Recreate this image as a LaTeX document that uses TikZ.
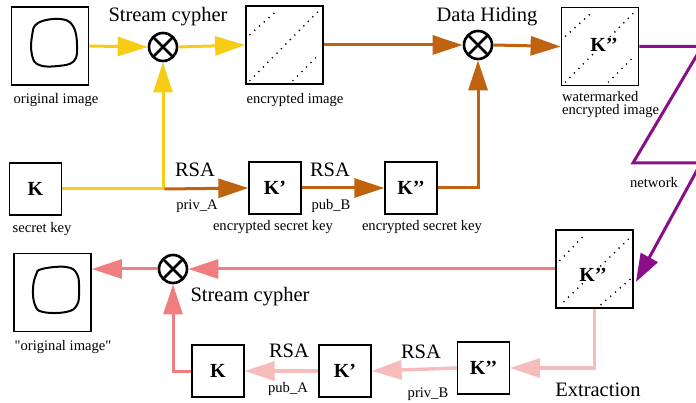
\documentclass[tikz,border=0pt]{standalone}
\usepackage{fontspec}
\setmainfont{Liberation Serif}[Ligatures=TeXOff]
\usetikzlibrary{arrows.meta,calc}
\definecolor{cyel}{HTML}{F6CC14}
\definecolor{cbrown}{HTML}{C0630F}
\definecolor{cpurp}{HTML}{8A0E88}
\definecolor{csalm}{HTML}{F07E7E}
\definecolor{cpink}{HTML}{F6BCBC}
\begin{document}
\begin{tikzpicture}[x=1pt,y=-1pt,
  every node/.style={font=\fontsize{14.6}{13}\selectfont, inner sep=0pt},
  big/.style={font=\fontsize{20.5}{24}\selectfont},
  keyf/.style={font=\fontsize{20}{24}\selectfont\bfseries},
  box/.style={draw, line width=1.3pt, minimum width=52pt, minimum height=52pt, keyf},
  imgbox/.style={draw, line width=1.8pt, minimum width=77pt, minimum height=78pt},
  xor/.style={draw, circle, line width=2.6pt, minimum size=28pt,
    path picture={\draw[line width=2.6pt] (path picture bounding box.north west) -- (path picture bounding box.south east)
      (path picture bounding box.north east) -- (path picture bounding box.south west);}},
  tip/.style={-{Triangle[length=30pt,width=19pt]}},
  yline/.style={draw=cyel, line width=3pt},
  bline/.style={draw=cbrown, line width=3pt},
  pline/.style={draw=cpurp, line width=3pt},
  sline/.style={draw=csalm, line width=3pt},
  kline/.style={draw=cpink, line width=3.4pt},
  dotl/.style={line width=1.4pt, dash pattern=on 1.2pt off 5.2pt},
  scrib/.style={line width=2pt}]
\useasboundingbox (0,0) rectangle (696,403);

% ---------- top row ----------
\node[imgbox] (orig) at (50,46) {};
\draw[scrib] plot[smooth cycle, tension=0.7] coordinates {(38,23) (60,19) (73,26) (77,45) (74,61) (58,66) (39,65) (32,55) (32,36)};
\node[xor] (x1) at (163,47) {};
\node[imgbox] (enc) at (284.5,45) {};
\begin{scope}[shift={(enc.center)}]
  \draw[dotl] (-35,-10) -- (-8,-34);
  \draw[dotl] (-35,36) -- (34,-34);
  \draw[dotl] (8,36) -- (34,10);
\end{scope}
\node[xor] (x2) at (478,45) {};
\node[imgbox] (wm) at (600,46.5) {};
\begin{scope}[shift={(wm.center)}]
  \draw[dotl] (-35,-10) -- (-8,-34);
  \draw[dotl] (-35,36) -- (34,-34);
  \draw[dotl] (8,36) -- (34,10);
\end{scope}
\node[keyf, fill=white, inner sep=1pt] (wmk) at (604,45) {K’’};

\node[box] (K) at (35.5,189) {K};
\node[box] (K1) at (275,188) {K’};
\node[box] (K2) at (411,188) {K’’};
\coordinate (j1) at (x1 |- K.east);
\coordinate (j2) at (x2 |- K2.east);

\node[big] (t1) at (168,17) {Stream cypher};
\node (l1) at (56,100) {original image};
\node (l2) at (295,100) {encrypted image};
\node[big] (t2) at (487,17) {Data Hiding};
\node[align=left, anchor=west] (l3) at (562,105) {watermarked\\encrypted image};
\node (l4) at (42,229) {secret key};
\node[big] (r1) at (195,170) {RSA};
\node (p1) at (197,206) {priv\_A};
\node (l5) at (273,227) {encrypted secret key};
\node (l6) at (422,227) {encrypted secret key};
\node[big] (r2) at (330,170) {RSA};
\node (p2) at (331,206) {pub\_B};
\node (l7) at (654,183) {network};

\draw[yline, tip] (orig.east) -- (x1.west);
\draw[yline, tip] (x1.east) -- (enc.west);
\draw[yline, tip] (K.east) -- (j1) -- (x1.south);
\draw[bline, tip] (enc.east) -- (x2.west);
\draw[bline, tip] (x2.east) -- (wm.west);
\draw[bline, tip] ($(j1)+(1.5,0)$) -- (K1.west);
\draw[bline, tip] (K1.east) -- (K2.west);
\draw[bline, tip] (K2.east) -- (j2) -- (x2.south);

% ---------- bottom row ----------
\node[imgbox] (rec) at (594.5,269) {};
\begin{scope}[shift={(rec.center)}]
  \draw[dotl] (-35,-8) -- (-12,-32);
  \draw[dotl] (-31,33) -- (34,-30);
  \draw[dotl] (6,36) -- (36,10);
\end{scope}
\node[keyf, fill=white, inner sep=1pt] (reck) at (593,275) {K’’};
\coordinate (nettip) at ($(rec.east)+(2,13)$);

\node[xor] (x3) at (173,269) {};
\node[imgbox] (orig2) at (52.5,292.5) {};
\draw[scrib] plot[smooth cycle, tension=0.7] coordinates {(42,269) (66,267) (77,274) (79,290) (77,305) (66,312) (43,312) (35,305) (33,289) (36,275)};
\node[box] (Kb) at (218,371) {K};
\node[box] (K1b) at (345,371) {K’};
\node[box] (K2b) at (483.5,368) {K’’};
\coordinate (j3) at (x3 |- Kb.west);
\coordinate (j4) at (rec.south |- K2b.east);

\node[big] (t3) at (250,297) {Stream cypher};
\node (l8) at (63,347) {"original image"};
\node[big] (r3) at (289,351) {RSA};
\node (p3) at (288,389) {pub\_A};
\node[big] (r4) at (421,352) {RSA};
\node (p4) at (428,394) {priv\_B};
\node[big] (t4) at (598,390) {Extraction};

\draw[sline, tip] (rec.west) -- (x3.east);
\draw[sline, tip] (x3.west) -- (x3.west -| orig2.east);
\draw[sline, tip] (Kb.west) -- (j3) -- (x3.south);
\draw[kline, tip] (rec.south) -- (j4) -- (K2b.east);
\draw[kline, tip] (K2b.west) -- (K1b.east);
\draw[kline, tip] (K1b.west) -- (Kb.east);

% ---------- network ----------
\begin{scope}
  \clip (0,0) rectangle (696,403);
  \draw[pline, -{Triangle[length=28pt,width=19pt]}] (wm.east) -- (702,46.5) -- (633,163) -- (701,163) -- (nettip);
\end{scope}
\end{tikzpicture}
\end{document}
